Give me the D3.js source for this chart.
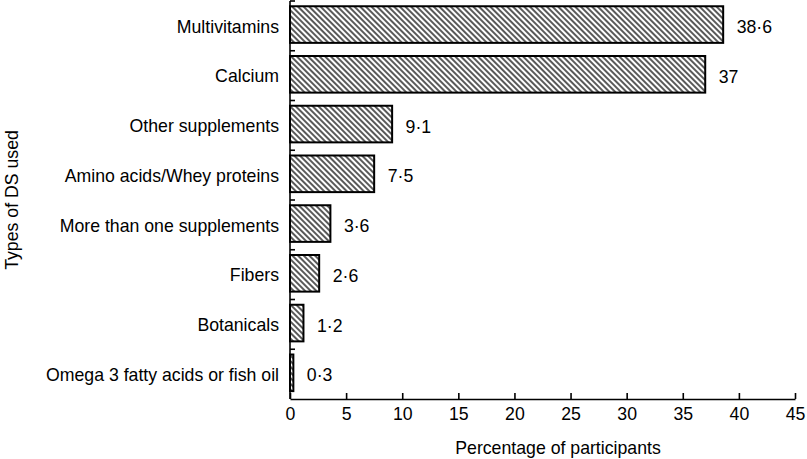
<!DOCTYPE html>
<html>
<head>
<meta charset="utf-8">
<script src="https://cdn.jsdelivr.net/npm/d3@7"></script>
<style>
  body { margin: 0; background: #fff; }
  svg { display: block; }
  text { font-family: "Liberation Sans", Arial, sans-serif; fill: #000; }
</style>
</head>
<body>
<svg id="chart" width="807" height="459"></svg>
<script>
const categories = [
  "Multivitamins",
  "Calcium",
  "Other supplements",
  "Amino acids/Whey proteins",
  "More than one supplements",
  "Fibers",
  "Botanicals",
  "Omega 3 fatty acids or fish oil"
];
const values = [38.6, 37, 9.1, 7.5, 3.6, 2.6, 1.2, 0.3];
const xTicks = [0, 5, 10, 15, 20, 25, 30, 35, 40, 45];
const xTitle = "Percentage of participants";
const yTitle = "Types of DS used";

(function () {
const svg = d3.select("#chart");
const mLeft = 290, mRight = 795, mTop = 1, mBottom = 399;
const fontSize = "17.7px";

const x = d3.scaleLinear().domain([0, 45]).range([mLeft, mRight]);
const pIn = 0.264;
const y = d3.scaleBand().domain(categories).range([mTop, mBottom])
  .paddingInner(pIn).paddingOuter(pIn / 2).align(0.4);

// hatch pattern
const defs = svg.append("defs");
const pat = defs.append("pattern")
  .attr("id", "hatch")
  .attr("patternUnits", "userSpaceOnUse")
  .attr("width", 4).attr("height", 4)
  .attr("patternTransform", "rotate(45)");
pat.append("rect").attr("width", 4).attr("height", 4).attr("fill", "#fff");
pat.append("line").attr("x1", 0).attr("y1", 2).attr("x2", 4).attr("y2", 2)
  .attr("stroke", "#000").attr("stroke-width", 1.3);

// bars
svg.append("g").selectAll("rect").data(categories).join("rect")
  .attr("x", x(0))
  .attr("y", d => y(d))
  .attr("width", (d, i) => x(values[i]) - x(0))
  .attr("height", y.bandwidth())
  .attr("fill", "url(#hatch)")
  .attr("stroke", "#000")
  .attr("stroke-width", 2);

// value labels
svg.append("g").selectAll("text").data(categories).join("text")
  .attr("x", (d, i) => x(values[i]) + 13.5)
  .attr("y", d => y(d) + y.bandwidth() / 2 + 8.5)
  .style("font-size", fontSize)
  .text((d, i) => String(values[i]).replace(".", "\u00B7"));

// category labels
svg.append("g").selectAll("text").data(categories).join("text")
  .attr("x", mLeft - 11)
  .attr("y", d => y(d) + y.bandwidth() / 2 + 8)
  .attr("text-anchor", "end")
  .style("font-size", fontSize)
  .text(d => d);

// y axis line + ticks at band boundaries
const step = y.step();
svg.append("line")
  .attr("x1", mLeft).attr("x2", mLeft)
  .attr("y1", mTop).attr("y2", mBottom)
  .attr("stroke", "#000").attr("stroke-width", 1.6);
svg.append("g").selectAll("line").data(d3.range(categories.length)).join("line")
  .attr("x1", mLeft).attr("x2", mLeft + 5)
  .attr("y1", i => mTop + i * step).attr("y2", i => mTop + i * step)
  .attr("stroke", "#000").attr("stroke-width", 1.6);

// x axis
const xAxis = d3.axisBottom(x).tickValues(xTicks).tickFormat(d3.format("d"))
  .tickSizeInner(-6).tickSizeOuter(0).tickPadding(8);
const gx = svg.append("g").attr("transform", `translate(0,${mBottom})`).call(xAxis);
gx.select(".domain").attr("stroke-width", 1.6);
gx.selectAll(".tick line").attr("stroke-width", 1.6);
gx.selectAll(".tick text").style("font-size", fontSize)
  .style("font-family", '"Liberation Sans", Arial, sans-serif').attr("fill", "#000");

// titles
svg.append("text")
  .attr("x", 558).attr("y", 454)
  .attr("text-anchor", "middle")
  .style("font-size", fontSize)
  .text(xTitle);

svg.append("text")
  .attr("transform", `translate(18,${(mTop + mBottom) / 2}) rotate(-90)`)
  .attr("text-anchor", "middle")
  .style("font-size", fontSize)
  .text(yTitle);
})();
</script>
</body>
</html>
